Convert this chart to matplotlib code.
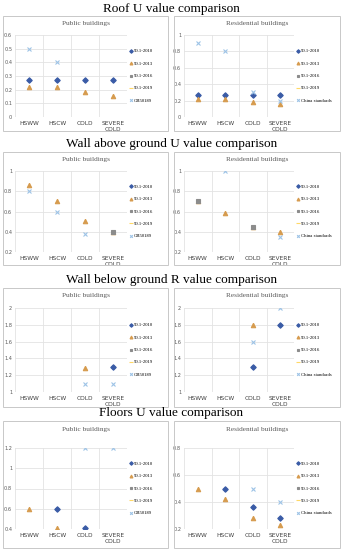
import numpy as np
import matplotlib
matplotlib.use('Agg')
from matplotlib import pyplot as plt
from matplotlib.patches import Rectangle

nan = np.nan
zones = ['HSWW', 'HSCW', 'COLD', 'SEVERE\nCOLD']
series_names = ['90.1-2010', '90.1-2013', '90.1-2016', '90.1-2019']

# Roof U value
roof_pub_2010 = [0.27, 0.27, 0.27, 0.27]
roof_pub_2013 = [0.22, 0.22, 0.18, 0.155]
roof_pub_2016 = [nan, nan, nan, nan]
roof_pub_2019 = [nan, nan, nan, nan]
roof_pub_gb = [0.5, 0.4, nan, nan]
roof_res_2010 = [0.27, 0.27, 0.27, 0.27]
roof_res_2013 = [0.22, 0.22, 0.18, 0.155]
roof_res_2016 = [nan, nan, nan, nan]
roof_res_2019 = [nan, nan, nan, nan]
roof_res_cn = [0.9, 0.8, 0.3, 0.2]

# Wall above ground U value
wa_pub_2010 = [nan, nan, nan, nan]
wa_pub_2013 = [0.857, 0.70, 0.51, 0.40]
wa_pub_2016 = [nan, nan, nan, 0.40]
wa_pub_2019 = [nan, nan, nan, nan]
wa_pub_gb = [0.8, 0.6, 0.38, nan]
wa_res_2010 = [nan, nan, nan, nan]
wa_res_2013 = [0.70, 0.59, 0.45, 0.40]
wa_res_2016 = [0.70, nan, 0.45, nan]
wa_res_2019 = [nan, nan, nan, nan]
wa_res_cn = [nan, 1.0, nan, 0.35]

# Wall below ground R value
wb_pub_2010 = [nan, nan, nan, 1.3]
wb_pub_2013 = [nan, nan, 1.29, nan]
wb_pub_2016 = [nan, nan, nan, nan]
wb_pub_2019 = [nan, nan, nan, nan]
wb_pub_gb = [nan, nan, 1.1, 1.1]
wb_res_2010 = [nan, nan, 1.3, 1.8]
wb_res_2013 = [nan, nan, 1.8, nan]
wb_res_2016 = [nan, nan, nan, nan]
wb_res_2019 = [nan, nan, nan, nan]
wb_res_cn = [nan, nan, 1.6, 2.0]

# Floors U value
fl_pub_2010 = [nan, 0.6, 0.41, nan]
fl_pub_2013 = [0.6, 0.41, nan, nan]
fl_pub_2016 = [nan, nan, nan, nan]
fl_pub_2019 = [nan, nan, nan, nan]
fl_pub_gb = [nan, nan, 1.2, 1.2]
fl_res_2010 = [nan, 0.5, 0.36, 0.28]
fl_res_2013 = [0.5, 0.42, 0.285, 0.23]
fl_res_2016 = [nan, nan, nan, nan]
fl_res_2019 = [nan, nan, nan, nan]
fl_res_cn = [nan, nan, 0.5, 0.4]

styles = [('D', '#3A5BA6', 2.8), ('^', '#D69B4E', 3.2), ('s', '#8C8C8C', 2.6),
          ('_', '#FFD966', 3.5), ('x', '#9DC3E6', 3.0)]

W, H = 343.0, 550.0
fig = plt.figure(figsize=(W / 100, H / 100), dpi=100)
fig.patch.set_facecolor('white')


def panel(x0, x1, top, bottom, ax_l, ax_r, ax_t, ax_b, title, data, labels, ylim, yticks, ytl):
    fig.add_artist(Rectangle((x0 / W, 1 - bottom / H), (x1 - x0) / W, (bottom - top) / H,
                             transform=fig.transFigure, fill=False, ec='#C8C8C8', lw=0.7))
    fig.text((x0 + x1) / 2 / W, 1 - (top + 8) / H, title, ha='center', va='center',
             fontsize=5.2, family='Liberation Serif', color='#595959')
    ax = fig.add_axes([ax_l / W, 1 - ax_b / H, (ax_r - ax_l) / W, (ax_b - ax_t) / H])
    x = np.arange(1, 5)
    for vals, lab, (m, c, ms) in zip(data, labels, styles):
        ax.plot(x, vals, linestyle='none', marker=m, color=c, ms=ms, mew=0.8, label=lab)
    ax.set_xlim(0.5, 4.5)
    ax.set_ylim(*ylim)
    ax.set_yticks(yticks)
    ax.set_yticklabels(ytl)
    ax.set_xticks(x)
    ax.set_xticklabels(zones)
    ax.set_xticks(np.arange(0.5, 5, 1), minor=True)
    ax.grid(True, which='minor', axis='x', color='#E3E3E3', lw=0.6)
    ax.grid(True, which='major', axis='y', color='#E3E3E3', lw=0.6)
    for s in ax.spines.values():
        s.set_visible(False)
    ax.tick_params(axis='both', which='both', length=0)
    ax.tick_params(axis='x', labelsize=4.2, labelcolor='#404040', pad=3)
    ax.tick_params(axis='y', labelsize=3.6, labelcolor='#595959', pad=2)
    for t in ax.get_xticklabels():
        t.set_linespacing(1.3)
    ax.legend(loc='center left', bbox_to_anchor=(1.0, 0.5), frameon=False,
              handlelength=0.6, handletextpad=0.2, labelspacing=1.7, borderaxespad=0.2,
              markerscale=0.65, prop={'family': 'Liberation Serif', 'size': 3.4})
    return ax


rows = [
    ('Roof U value comparison', 9, 16, 131, 35, 117,
     [roof_pub_2010, roof_pub_2013, roof_pub_2016, roof_pub_2019, roof_pub_gb],
     [roof_res_2010, roof_res_2013, roof_res_2016, roof_res_2019, roof_res_cn],
     (0, 0.6), np.arange(0, 0.61, 0.1), ['0', '0.1', '0.2', '0.3', '0.4', '0.5', '0.6'],
     (0, 1), np.arange(0, 1.01, 0.2), ['0', '0.2', '0.4', '0.6', '0.8', '1']),
    ('Wall above ground U value comparison', 144, 152, 265, 171, 252,
     [wa_pub_2010, wa_pub_2013, wa_pub_2016, wa_pub_2019, wa_pub_gb],
     [wa_res_2010, wa_res_2013, wa_res_2016, wa_res_2019, wa_res_cn],
     (0.2, 1), np.arange(0.2, 1.01, 0.2), ['0.2', '0.4', '0.6', '0.8', '1'],
     (0.2, 1), np.arange(0.2, 1.01, 0.2), ['0.2', '0.4', '0.6', '0.8', '1']),
    ('Wall below ground R value comparison', 280, 288, 407, 308, 392,
     [wb_pub_2010, wb_pub_2013, wb_pub_2016, wb_pub_2019, wb_pub_gb],
     [wb_res_2010, wb_res_2013, wb_res_2016, wb_res_2019, wb_res_cn],
     (1, 2), np.arange(1, 2.01, 0.2), ['1', '1.2', '1.4', '1.6', '1.8', '2'],
     (1, 2), np.arange(1, 2.01, 0.2), ['1', '1.2', '1.4', '1.6', '1.8', '2']),
    ('Floors U value comparison', 413, 421, 548, 448, 529,
     [fl_pub_2010, fl_pub_2013, fl_pub_2016, fl_pub_2019, fl_pub_gb],
     [fl_res_2010, fl_res_2013, fl_res_2016, fl_res_2019, fl_res_cn],
     (0.4, 1.2), np.arange(0.4, 1.21, 0.2), ['0.4', '0.6', '0.8', '1', '1.2'],
     (0.2, 0.8), np.arange(0.2, 0.81, 0.2), ['0.2', '0.4', '0.6', '0.8']),
]

for (title, ty, top, bottom, at, ab, pub, res,
     ylp, ytp, tlp, ylr, ytr, tlr) in rows:
    fig.text(0.5, 1 - ty / H, title, ha='center', va='center', fontsize=9.5,
             family='Liberation Serif', color='black')
    panel(3, 168, top, bottom, 15, 127, at, ab, 'Public buildings', pub,
          series_names + ['GB50189'], ylp, ytp, tlp)
    panel(174, 340, top, bottom, 184, 294, at, ab, 'Residential buildings', res,
          series_names + ['China standards'], ylr, ytr, tlr)

fig.savefig('out.png', dpi=100, facecolor='white')
